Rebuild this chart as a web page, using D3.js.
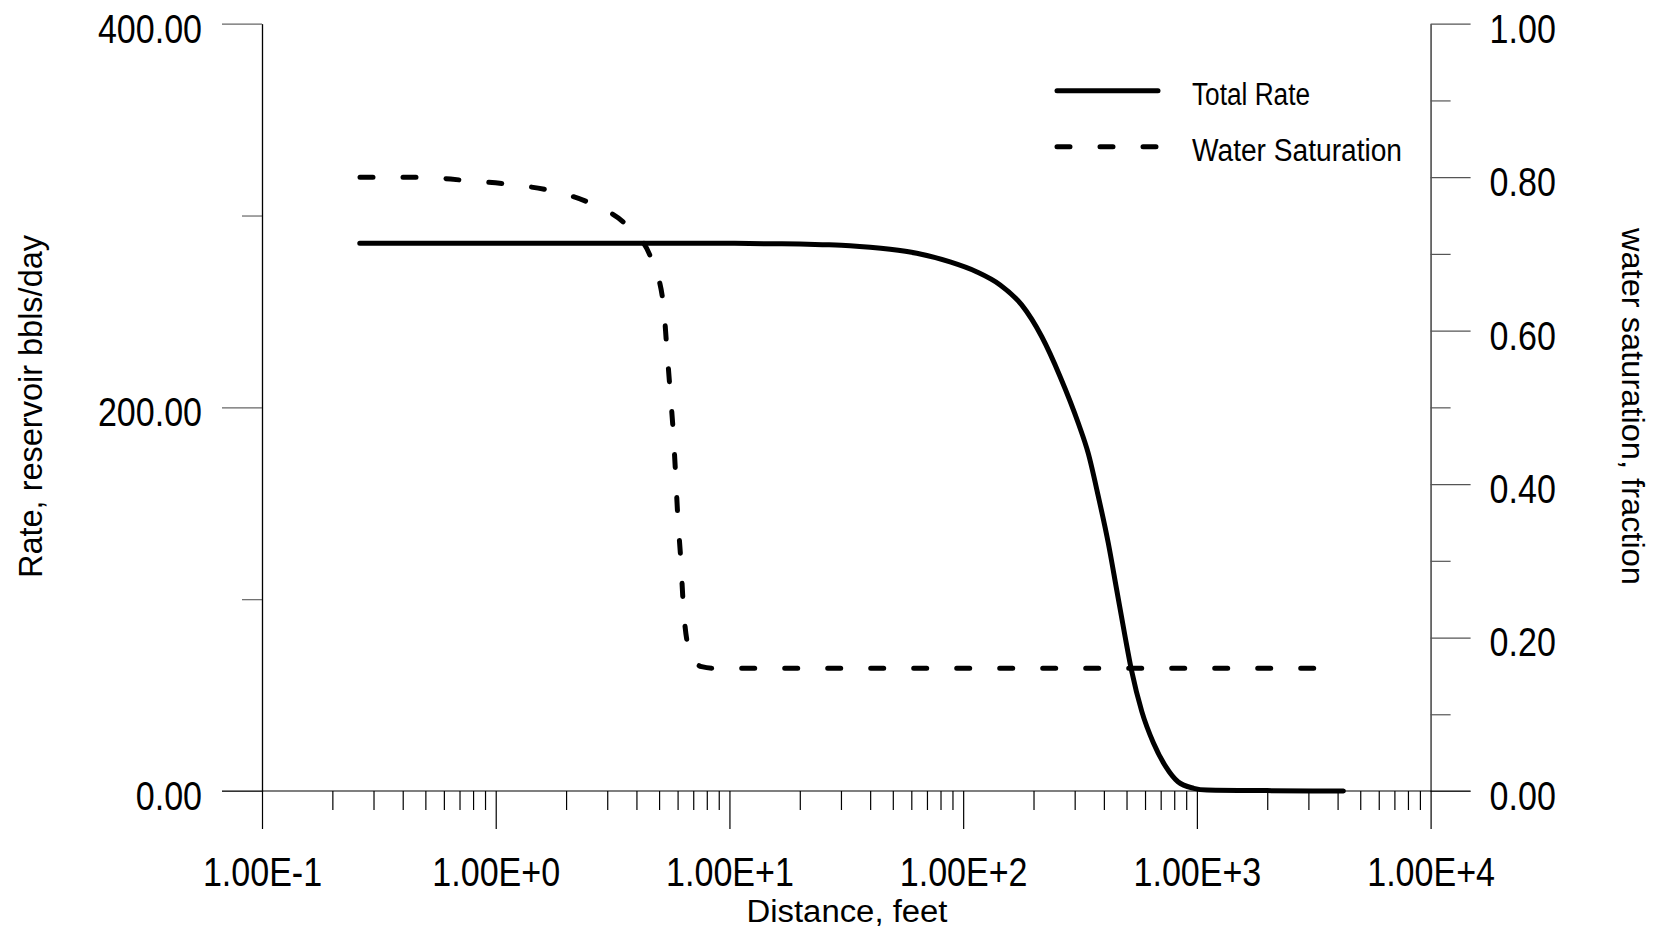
<!DOCTYPE html>
<html>
    <head>
        <title>Rate and Water Saturation vs Distance</title>
        <style>
            html, body { margin: 0; padding: 0; background: #fff; }
            svg text { font-family: "Liberation Sans", Arial, sans-serif; fill: #000; }
        </style>
        <script src="https://d3js.org/d3.v7.min.js"></script>
        <script type="text/javascript">
            // total rate, reservoir bbls/day
            var rateDist = [0.262, 1.0, 5.0, 10, 15, 20, 25, 32.8, 40, 48.7, 63.3, 87.9, 114, 144, 178, 217, 260, 311, 343, 379, 418, 454, 493, 526, 581, 652, 735, 830, 970, 1106, 2000, 4236];
            var rateVals = [285.5, 285.5, 285.5, 285.5, 285.3, 285.1, 284.8, 284.3, 283.5, 282.4, 280.3, 275.8, 270.7, 263.8, 253.4, 236.8, 216, 191.7, 176, 153.4, 129.1, 104.8, 80.5, 62.5, 41.5, 25, 12.8, 4.8, 1.4, 0.5, 0.2, 0];

            // water saturation, fraction
            var swDist = [0.2626, 0.474, 0.725, 1.115, 1.71, 2.58, 3.69, 4.65, 5.21, 5.39, 5.57, 5.75, 5.89, 6.01, 6.19, 6.35, 6.57, 7.0, 7.6, 8.5, 3800];
            var swVals = [0.80, 0.80, 0.796, 0.791, 0.7825, 0.765, 0.735, 0.692, 0.636, 0.579, 0.523, 0.467, 0.41, 0.358, 0.302, 0.241, 0.197, 0.172, 0.162, 0.16, 0.16];

            var xMajor = [0.1, 1, 10, 100, 1000, 10000];
            var rateMajor = [0, 200, 400];
            var rateMinor = [100, 300];
            var swMajor = [0, 0.2, 0.4, 0.6, 0.8, 1.0];
            var swMinor = [0.1, 0.3, 0.5, 0.7, 0.9];

            var legendLabels = ["Total Rate", "Water Saturation"];
            var xTitle = "Distance, feet";
            var yLeftTitle = "Rate, reservoir bbls/day";
            var yRightTitle = "water saturation, fraction";
        </script>
    </head>
    <body>
        <div id="chart"></div>
        <script type="text/javascript">
            var w = 1669, h = 940;
            var pLeft = 262, pRight = 1430.6, pTop = 23.7, pBottom = 791;

            var svg = d3.select("#chart").append("svg")
                .attr("width", w)
                .attr("height", h);

            var x = d3.scaleLog().domain([0.1, 10000]).range([pLeft, pRight]);
            var yL = d3.scaleLinear().domain([0, 400]).range([pBottom, pTop]);
            var yR = d3.scaleLinear().domain([0, 1]).range([pBottom, pTop]);

            // minor x ticks 2..9 in each decade
            var xMinor = [];
            xMajor.slice(0, -1).forEach(function(d) {
                for (var k = 2; k <= 9; k++) xMinor.push(d * k);
            });

            function expFmt(d) {
                var e = Math.round(Math.log10(d));
                return "1.00E" + (e < 0 ? "-" : "+") + Math.abs(e);
            }

            // the original uses a narrow face; squeeze the glyphs instead
            function squeeze(sel, k) {
                sel.each(function() {
                    var t = d3.select(this);
                    t.attr("textLength", this.getComputedTextLength() * k)
                     .attr("lengthAdjust", "spacingAndGlyphs");
                });
            }

            function style(g, col, fs, dy) {
                g.select(".domain").attr("stroke", col).attr("stroke-width", 1.2);
                g.selectAll(".tick line").attr("stroke", col).attr("stroke-width", 1.2);
                g.selectAll(".tick text").attr("font-size", fs).attr("fill", "#000")
                    .attr("font-family", null);
                if (dy) g.selectAll(".tick text").attr("dy", dy);
                if (fs) squeeze(g.selectAll(".tick text"), 0.83);
            }

            // left axis
            svg.append("g").attr("transform", "translate(" + pLeft + ",0)")
                .call(d3.axisLeft(yL).tickValues(rateMinor).tickSize(20).tickSizeOuter(0).tickFormat(""))
                .call(style, "#666", 0);
            svg.append("g").attr("transform", "translate(" + pLeft + ",0)")
                .call(d3.axisLeft(yL).tickValues(rateMajor).tickSize(40).tickPadding(20).tickSizeOuter(0).tickFormat(d3.format(".2f")))
                .call(style, "#666", 41, "0.45em")
                .select(".domain").attr("stroke", "#000");

            // right axis
            svg.append("g").attr("transform", "translate(" + pRight + ",0)")
                .call(d3.axisRight(yR).tickValues(swMinor).tickSize(20).tickSizeOuter(0).tickFormat(""))
                .call(style, "#555", 0);
            svg.append("g").attr("transform", "translate(" + pRight + ",0)")
                .call(d3.axisRight(yR).tickValues(swMajor).tickSize(40).tickPadding(19).tickSizeOuter(0).tickFormat(d3.format(".2f")))
                .call(style, "#555", 41, "0.45em");

            // bottom axis
            svg.append("g").attr("transform", "translate(0," + pBottom + ")")
                .call(d3.axisBottom(x).tickValues(xMinor).tickSize(19).tickSizeOuter(0).tickFormat(""))
                .call(style, "#000", 0)
                .select(".domain").remove();
            svg.append("g").attr("transform", "translate(0," + pBottom + ")")
                .call(d3.axisBottom(x).tickValues(xMajor).tickSize(38).tickPadding(28).tickSizeOuter(0).tickFormat(expFmt))
                .call(style, "#000", 41)
                .select(".domain").attr("d", "M" + (pLeft - 40) + ",0H" + (pRight + 40));

            // titles
            svg.append("text").attr("x", 847).attr("y", 922)
                .attr("text-anchor", "middle").attr("font-size", 31)
                .attr("textLength", 201).attr("lengthAdjust", "spacingAndGlyphs").text(xTitle);
            svg.append("text").attr("transform", "translate(42,406.5) rotate(-90)")
                .attr("text-anchor", "middle").attr("font-size", 33)
                .attr("textLength", 343).attr("lengthAdjust", "spacingAndGlyphs").text(yLeftTitle);
            svg.append("text").attr("transform", "translate(1621.5,406.5) rotate(90)")
                .attr("text-anchor", "middle").attr("font-size", 32)
                .attr("textLength", 357).attr("lengthAdjust", "spacingAndGlyphs").text(yRightTitle);

            // curves
            var rateLine = d3.line().curve(d3.curveMonotoneX)
                .x(function(d, i) { return x(rateDist[i]); })
                .y(function(d) { return yL(d); });
            var swLine = d3.line().curve(d3.curveMonotoneX)
                .x(function(d, i) { return x(swDist[i]); })
                .y(function(d) { return yR(d); });

            svg.append("path").attr("d", rateLine(rateVals))
                .attr("fill", "none").attr("stroke", "#000").attr("stroke-width", 5)
                .attr("stroke-linecap", "round").attr("stroke-linejoin", "round");
            svg.append("path").attr("d", swLine(swVals))
                .attr("fill", "none").attr("stroke", "#000").attr("stroke-width", 5)
                .attr("stroke-linecap", "round").attr("stroke-dasharray", "13 30");

            // legend
            var legWidths = [118, 210];
            var leg = svg.append("g");
            legendLabels.forEach(function(lab, i) {
                var ly = 90.7 + i * 56;
                leg.append("line").attr("x1", 1057).attr("x2", 1158).attr("y1", ly).attr("y2", ly)
                    .attr("stroke", "#000").attr("stroke-width", 5).attr("stroke-linecap", "round")
                    .attr("stroke-dasharray", i == 1 ? "13 30" : null);
                leg.append("text").attr("x", 1192).attr("y", ly + 14).attr("font-size", 31)
                    .attr("textLength", legWidths[i]).attr("lengthAdjust", "spacingAndGlyphs").text(lab);
            });
        </script>
    </body>
</html>
